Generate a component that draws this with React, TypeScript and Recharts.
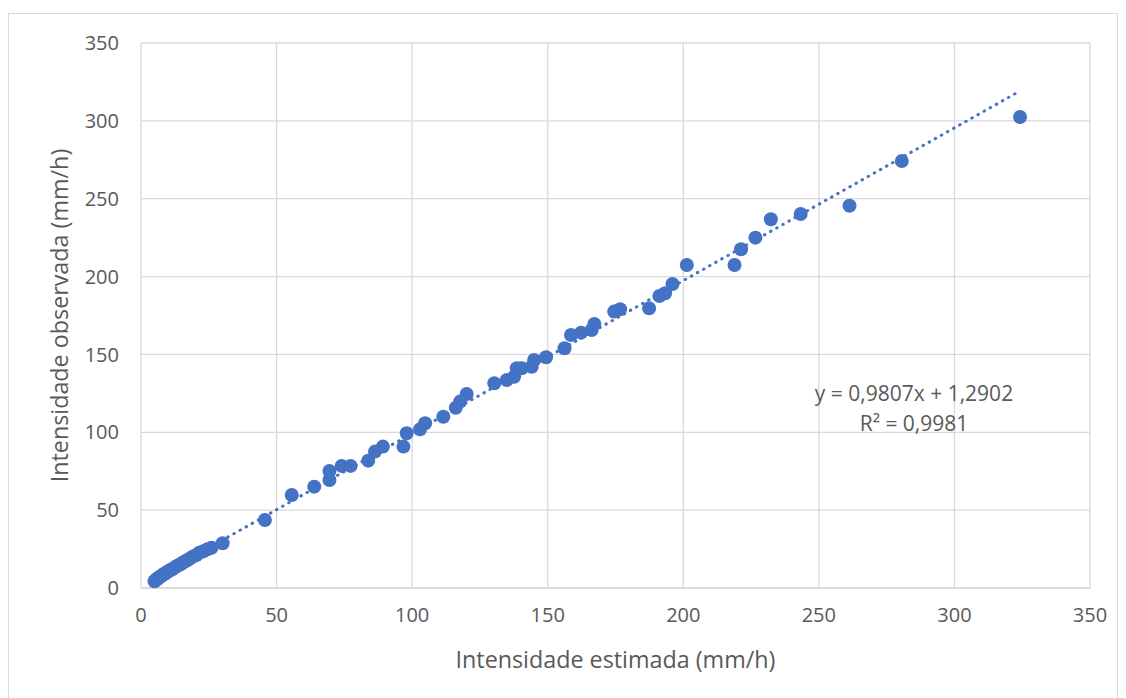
import React from "react";
import { ScatterChart, Scatter, XAxis, YAxis, CartesianGrid } from "recharts";

const estimada: number[] = [
  5.0, 5.4, 5.9, 6.3, 6.8, 7.2, 7.7, 8.1, 8.6, 9.0, 9.6, 10.1, 10.8, 11.5, 12.2, 13.0, 13.8, 14.6, 15.5, 16.3,
  17.2, 18.1, 19.2, 20.3, 21.5, 23.0, 24.5, 26.0, 30.1, 45.7, 55.6, 63.9, 69.5, 69.5, 74.0, 77.3, 83.8, 86.3,
  89.2, 96.8, 98.0, 102.9, 104.8, 111.5, 116.1, 117.7, 120.1, 130.3, 134.9, 137.6, 138.6, 140.4, 144.1, 145.0,
  149.4, 156.2, 158.6, 162.3, 166.2, 167.2, 174.5, 176.7, 187.4, 191.2, 193.3, 196.0, 201.3, 218.9, 221.3,
  226.6, 232.3, 243.3, 261.3, 280.6, 324.2,
];
const observada: number[] = [
  4.3, 5.1, 5.6, 6.5, 6.9, 7.4, 8.0, 8.6, 9.0, 9.5, 10.2, 10.8, 11.5, 12.0, 12.9, 13.8, 14.6, 15.3, 16.4, 17.1,
  18.0, 19.0, 20.3, 21.0, 22.6, 23.6, 24.9, 25.8, 28.7, 43.7, 59.7, 65.1, 69.4, 75.1, 78.4, 78.4, 81.8, 87.6,
  90.8, 90.8, 99.4, 101.9, 105.8, 110.0, 115.8, 119.7, 124.6, 131.5, 133.6, 135.7, 141.1, 141.1, 142.1, 146.4,
  148.2, 154.0, 162.5, 164.0, 165.7, 169.6, 177.5, 179.0, 179.6, 187.5, 189.3, 195.2, 207.4, 207.4, 217.5,
  225.0, 236.8, 240.2, 245.5, 274.2, 302.5,
];
const trendX: number[] = [5.0, 322.5];
const trendY: number[] = [6.19, 317.56];
const ticks: number[] = [0, 50, 100, 150, 200, 250, 300, 350];
const equationLines: string[] = ["y = 0,9807x + 1,2902", "R² = 0,9981"];
const xTitle = "Intensidade estimada (mm/h)";
const yTitle = "Intensidade observada (mm/h)";

const points = estimada.map((x, i) => ({ x, y: observada[i] }));
const trend = trendX.map((x, i) => ({ x, y: trendY[i] }));

const BLUE = "#4472C4";
const FONT = "'Open Sans', sans-serif";
const TEXT = "#595959";

const Dot = (props: any) => {
  const { cx, cy } = props;
  if (cx == null || cy == null) return <g />;
  return <circle cx={cx} cy={cy} r={7} fill={BLUE} />;
};
const NoShape = () => <g />;

const YTitle = (props: any) => {
  const vb = props.viewBox || {};
  const cx = vb.x + 59;
  const cy = vb.y + vb.height / 2;
  return (
    <text x={cx} y={cy} transform={`rotate(-90 ${cx} ${cy})`} textAnchor="middle"
      fill={TEXT} fontSize={23.3} fontFamily={FONT}>{yTitle}</text>
  );
};
const XTitle = (props: any) => {
  const vb = props.viewBox || {};
  const cx = vb.x + vb.width / 2;
  const cy = vb.y + 80;
  return (
    <text x={cx} y={cy} textAnchor="middle" fill={TEXT} fontSize={23.3} fontFamily={FONT}>
      {xTitle}
    </text>
  );
};

export default function App() {
  return (
    <div style={{ paddingTop: 5 }}>
      <div style={{ width: 1108, height: 684, border: "1px solid #d9d9d9", position: "relative", background: "#fff" }}>
        <ScatterChart width={1108} height={684} margin={{ top: 29, right: 27, left: 0, bottom: 30 }}>
          <CartesianGrid stroke="#d9d9d9" strokeWidth={1.3} horizontalValues={ticks} verticalValues={ticks} />
          <XAxis type="number" dataKey="x" domain={[0, 350]} ticks={ticks} allowDataOverflow
            height={80} tickLine={false} axisLine={{ stroke: "#d9d9d9", strokeWidth: 1.3 }} tickMargin={14}
            tick={{ fill: TEXT, fontSize: 20, fontFamily: FONT }} label={{ content: <XTitle /> }} />
          <YAxis type="number" dataKey="y" domain={[0, 350]} ticks={ticks} allowDataOverflow
            width={132} tickLine={false} axisLine={false} tickMargin={16}
            tick={{ fill: TEXT, fontSize: 20, fontFamily: FONT }} label={{ content: <YTitle /> }} />
          <Scatter data={points} shape={<Dot />} isAnimationActive={false} />
          <Scatter data={trend} shape={<NoShape />} isAnimationActive={false}
            line={{ stroke: BLUE, strokeWidth: 3, strokeDasharray: "0.5 6.5", strokeLinecap: "round" }} />
        </ScatterChart>
        <div style={{ position: "absolute", left: 755, top: 364, width: 300, textAlign: "center", color: TEXT,
          fontFamily: FONT, fontSize: 21, lineHeight: "30px", pointerEvents: "none" }}>
          {equationLines.map((l) => <div key={l}>{l}</div>)}
        </div>
      </div>
    </div>
  );
}
